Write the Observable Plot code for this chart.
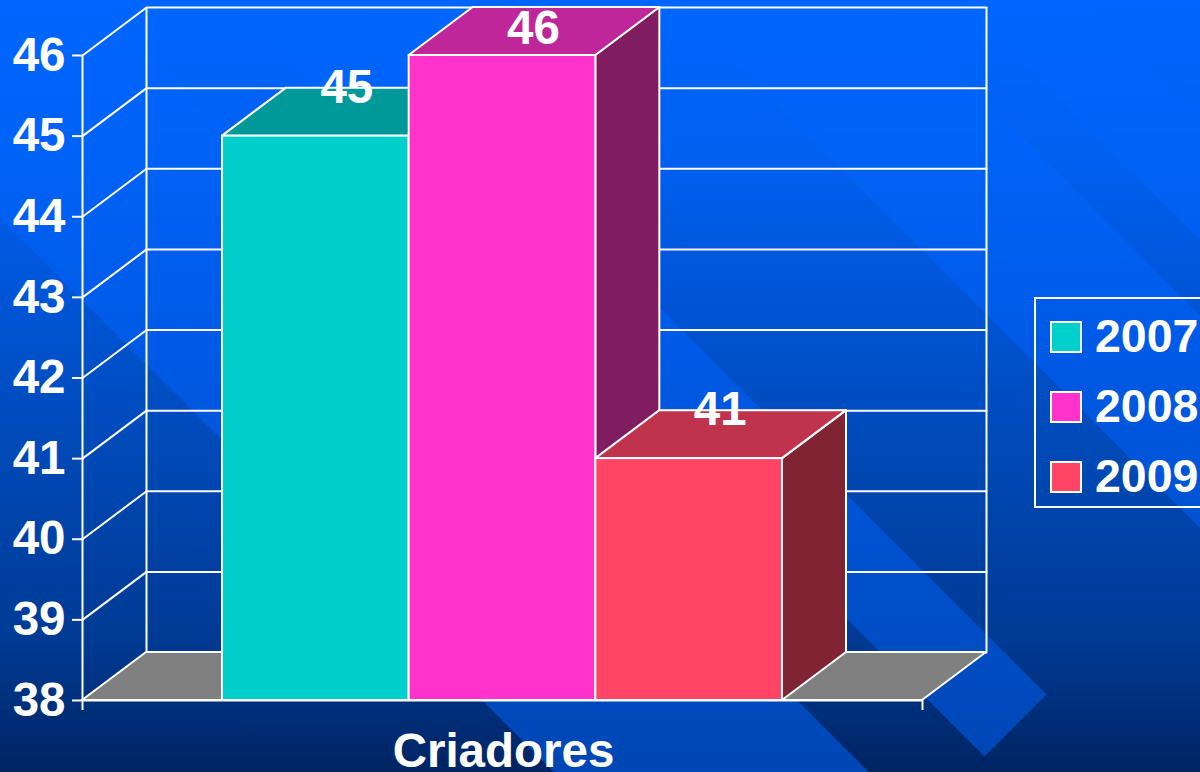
<!DOCTYPE html>
<html>
<head>
<meta charset="utf-8">
<script src="https://cdn.jsdelivr.net/npm/d3@7"></script>
<script src="https://cdn.jsdelivr.net/npm/@observablehq/plot@0.6"></script>
<style>
html,body{margin:0;padding:0;width:1200px;height:772px;overflow:hidden;background:#003090;}
#stage{position:relative;width:1200px;height:772px;overflow:hidden;font-family:"Liberation Sans",Arial,sans-serif;font-weight:bold;color:#fff;
 background:linear-gradient(180deg,#0066ff 0%,#0060f0 20%,#0054d4 40%,#0048b4 60%,#003a94 83%,#002462 100%);}
#bands{position:absolute;inset:0;background:linear-gradient(180deg,#0066ff 0%,#0062f6 20%,#005ae6 45%,#0050cc 75%,#0046b4 100%);}
#chart{position:absolute;left:0;top:0;}
#legend{position:absolute;left:1034px;top:297px;width:190px;height:207px;border:2px solid #fff;}
.item{position:absolute;left:14px;display:flex;align-items:center;height:31px;font-size:46.5px;line-height:31px;}
.swatch{box-sizing:border-box;width:32px;height:32px;border:2px solid #fff;margin-right:13px;}
</style>
</head>
<body>
<div id="stage"><div id="bands"></div><div id="chart"></div><div id="legend"></div></div>
<script>
const categories = ["Criadores"];
const years = ["2007", "2008", "2009"];
const values = [45, 46, 41];
const labelHeights = [45.6, 46.33, 41.6];
const frontColors = ["#00cfcc", "#ff33cc", "#ff4466"];
const topColors = ["#009999", "#bf2699", "#bf334d"];
const sideColors = ["#007f7f", "#801c60", "#802433"];
const yTicks = [38, 39, 40, 41, 42, 43, 44, 45, 46];

const depthX = 64 / 840;
const depthY = 48 / 80.625;
const barStart = 1 / 6;
const barWidth = 2 / 9;
const yBase = yTicks[0];
const yTop = yTicks[yTicks.length - 1];

// decorative diagonal background bands
const bandPaths = [[-218, 97], [672, 885], [960, 1082]]
  .map(([a, b]) => `M${a} 0L${b} 0L${b + 772} 772L${a + 772} 772Z`);
bandPaths.push("M228 0L352 0L1046.5 694.5L984.5 756.5Z");
document.getElementById("bands").style.clipPath = `path("${bandPaths.join("")}")`;

const white = {stroke: "white", strokeWidth: 2};

const bars = years.map((year, i) => ({
  year,
  value: values[i],
  x1: barStart + i * barWidth,
  x2: barStart + (i + 1) * barWidth
}));

const gridPoints = yTicks.flatMap(t => [
  {t, x: 0, y: t},
  {t, x: depthX, y: t + depthY},
  {t, x: 1 + depthX, y: t + depthY}
]);

const floor = [
  {x: 0, y1: yBase, y2: yBase},
  {x: depthX, y1: yBase, y2: yBase + depthY},
  {x: 1, y1: yBase, y2: yBase + depthY},
  {x: 1 + depthX, y1: yBase + depthY, y2: yBase + depthY}
];

const barMarks = bars.flatMap((b, i) => [
  Plot.areaY([
    {x: b.x2, y1: yBase, y2: b.value},
    {x: b.x2 + depthX, y1: yBase + depthY, y2: b.value + depthY}
  ], {x: "x", y1: "y1", y2: "y2", fill: sideColors[i], ...white}),
  Plot.areaY([
    {x: b.x1, y1: b.value, y2: b.value},
    {x: b.x1 + depthX, y1: b.value, y2: b.value + depthY},
    {x: b.x2, y1: b.value, y2: b.value + depthY},
    {x: b.x2 + depthX, y1: b.value + depthY, y2: b.value + depthY}
  ], {x: "x", y1: "y1", y2: "y2", fill: topColors[i], ...white}),
  Plot.rect([b], {x1: "x1", x2: "x2", y1: yBase, y2: "value", fill: frontColors[i], ...white})
]);

const chart = Plot.plot({
  width: 1200,
  height: 772,
  marginLeft: 82,
  marginRight: 278,
  marginTop: 55,
  marginBottom: 72,
  style: {background: "transparent", fontFamily: "Liberation Sans, Arial, sans-serif", color: "white", overflow: "visible"},
  x: {domain: [0, 1]},
  y: {domain: [yBase, yTop]},
  marks: [
    Plot.line(gridPoints, {x: "x", y: "y", z: "t", ...white}),
    Plot.ruleX([0], {y1: yBase, y2: yTop, ...white}),
    Plot.ruleX([depthX, 1 + depthX], {y1: yBase + depthY, y2: yTop + depthY, ...white}),
    Plot.areaY(floor, {x: "x", y1: "y1", y2: "y2", fill: "#808080", ...white}),
    Plot.axisY({ticks: yTicks, tickSize: 10, tickPadding: 7, fontSize: 47.5, fontWeight: "bold", color: "white", strokeWidth: 2, label: null, tickFormat: d => String(d)}),
    Plot.axisX({ticks: [0, 1], tickSize: 10, tickFormat: () => "", color: "white", strokeWidth: 2, label: null}),
    Plot.ruleY([yBase], {x1: 0, x2: 1, ...white}),
    ...barMarks,
    Plot.text(bars, {
      x: d => (d.x1 + d.x2 + depthX) / 2,
      y: (d, i) => labelHeights[i],
      text: d => String(d.value),
      fill: "white", fontSize: 47.5, fontWeight: "bold", dx: -1
    }),
    Plot.text(categories, {x: () => 0.5, y: () => yBase, dy: 51, text: d => d, fill: "white", fontSize: 47.5, fontWeight: "bold", dx: 1})
  ]
});
document.getElementById("chart").appendChild(chart);

const legend = document.getElementById("legend");
years.forEach((year, i) => {
  const item = document.createElement("div");
  item.className = "item";
  item.style.top = (22 + i * 70) + "px";
  const sw = document.createElement("span");
  sw.className = "swatch";
  sw.style.background = frontColors[i];
  item.appendChild(sw);
  item.appendChild(document.createTextNode(year));
  legend.appendChild(item);
});
</script>
</body>
</html>
